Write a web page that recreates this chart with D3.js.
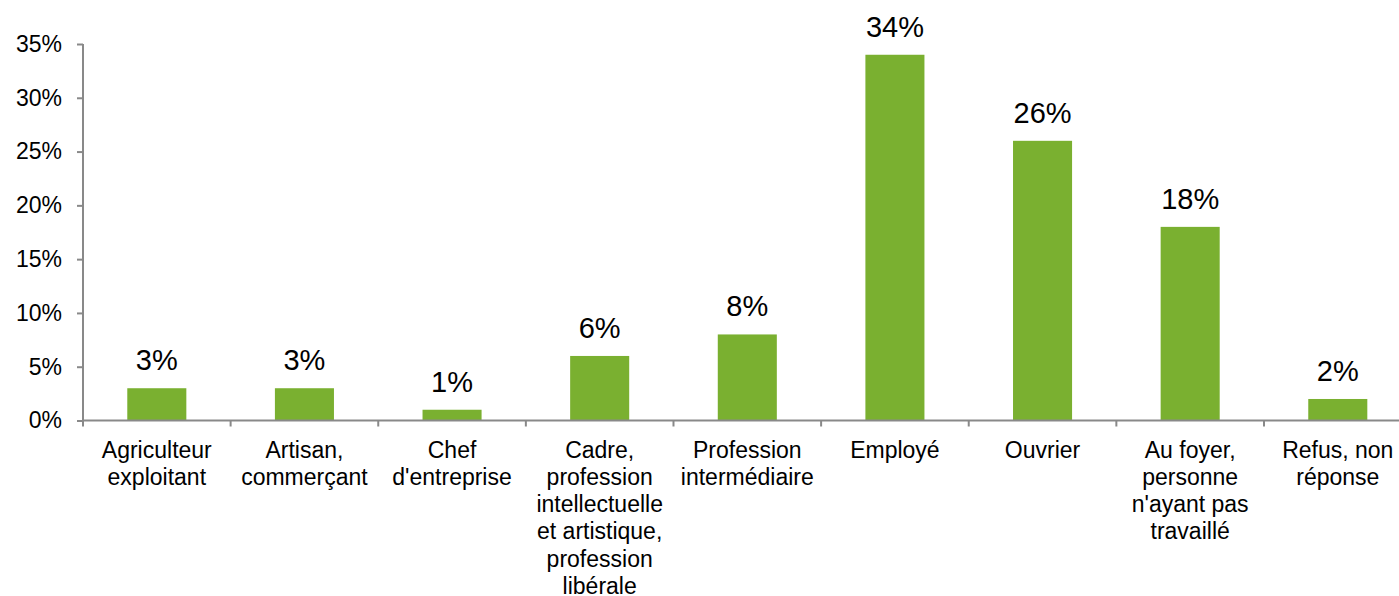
<!DOCTYPE html>
<html><head><meta charset="utf-8">
<script src="https://cdn.jsdelivr.net/npm/d3@7"></script>
<style>body{margin:0;background:#fff;} svg{display:block;font-family:"Liberation Sans",Arial,sans-serif;}</style>
</head><body>
<svg id="c" width="1399" height="596"></svg>
<script>
const categories = [
  ["Agriculteur","exploitant"],
  ["Artisan,","commerçant"],
  ["Chef","d'entreprise"],
  ["Cadre,","profession","intellectuelle","et artistique,","profession","libérale"],
  ["Profession","intermédiaire"],
  ["Employé"],
  ["Ouvrier"],
  ["Au foyer,","personne","n'ayant pas","travaillé"],
  ["Refus, non","réponse"]
];
const values = [3, 3, 1, 6, 8, 34, 26, 18, 2];
const yTicks = [0, 5, 10, 15, 20, 25, 30, 35];

const svg = d3.select("#c");
const mLeft = 83, mRight = 1411.6, mTop = 44, mBottom = 420.5;
const x = d3.scaleBand().domain(d3.range(categories.length)).range([mLeft, mRight]).paddingInner(0.6).paddingOuter(0.3);
const y = d3.scaleLinear().domain([0, 35]).range([mBottom, mTop]);
const axisColor = "#898989";
const bandStep = (mRight - mLeft) / categories.length;

// y axis
const ya = svg.append("g").attr("transform", `translate(${mLeft},0)`)
  .call(d3.axisLeft(y).tickValues(yTicks).tickSize(6).tickPadding(15).tickFormat(d => d + "%"));
ya.select(".domain").attr("stroke", axisColor).attr("stroke-width", 2).attr("d", `M0,${mTop}V${mBottom}`);
ya.selectAll(".tick line").attr("stroke", axisColor).attr("stroke-width", 2);
ya.selectAll(".tick text").attr("font-size", 23).attr("fill", "#000").attr("font-family", "Liberation Sans, Arial, sans-serif");

// bars
svg.append("g").selectAll("rect").data(values).join("rect")
  .attr("x", (d,i) => x(i)).attr("width", x.bandwidth())
  .attr("y", d => y(d)).attr("height", d => y(0) - y(d))
  .attr("fill", "#7AB030");

// x axis line & ticks
svg.append("line").attr("x1", mLeft).attr("x2", 1399).attr("y1", mBottom).attr("y2", mBottom)
  .attr("stroke", axisColor).attr("stroke-width", 2);
svg.append("g").selectAll("line").data(d3.range(categories.length + 1)).join("line")
  .attr("x1", i => mLeft + i*bandStep).attr("x2", i => mLeft + i*bandStep)
  .attr("y1", mBottom).attr("y2", mBottom + 6)
  .attr("stroke", axisColor).attr("stroke-width", 2);

// value labels
svg.append("g").selectAll("text").data(values).join("text")
  .attr("x", (d,i) => x(i) + x.bandwidth()/2).attr("y", d => y(d) - 18)
  .attr("text-anchor", "middle").attr("font-size", 29).attr("fill", "#000")
  .text(d => d + "%");

// category labels
const cl = svg.append("g").selectAll("text").data(categories).join("text")
  .attr("text-anchor", "middle").attr("font-size", 23).attr("fill", "#000")
  .attr("x", (d,i) => x(i) + x.bandwidth()/2).attr("y", 457.5);
cl.selectAll("tspan").data(d => d).join("tspan")
  .attr("x", function(){ return this.parentNode.getAttribute("x"); })
  .attr("dy", (d,j) => j === 0 ? 0 : 27.3)
  .text(d => d);
</script>
</body></html>
